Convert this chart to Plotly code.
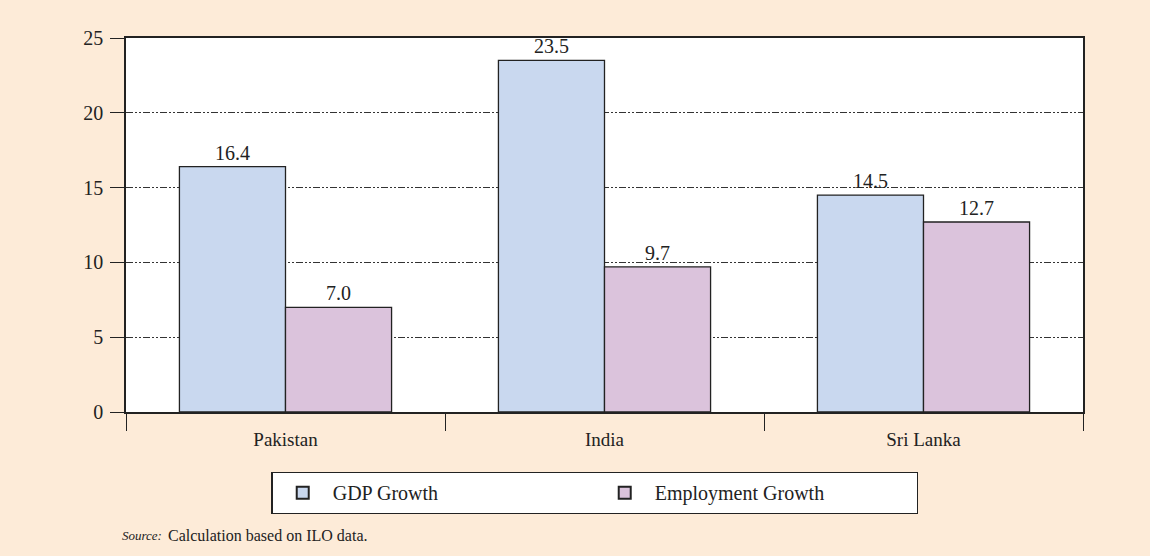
import plotly.graph_objects as go

categories = ["Pakistan", "India", "Sri Lanka"]
gdp_growth = [16.4, 23.5, 14.5]
employment_growth = [7.0, 9.7, 12.7]
y_ticks = [0, 5, 10, 15, 20, 25]

BG = "#FDEBD8"
FONT = "Liberation Serif"
INK = "#222222"

fig = go.Figure()
fig.add_trace(go.Bar(
    name="GDP Growth", x=categories, y=gdp_growth,
    marker=dict(color="#C9D8EF", line=dict(color=INK, width=1.3)),
    texttemplate="%{y:.1f}", textposition="outside",
    textfont=dict(family=FONT, size=20, color=INK), cliponaxis=False,
))
fig.add_trace(go.Bar(
    name="Employment Growth", x=categories, y=employment_growth,
    marker=dict(color="#DBC3DC", line=dict(color=INK, width=1.3)),
    texttemplate="%{y:.1f}", textposition="outside",
    textfont=dict(family=FONT, size=20, color=INK), cliponaxis=False,
))

fig.update_layout(
    width=1150, height=556,
    paper_bgcolor=BG, plot_bgcolor="white",
    margin=dict(l=126, r=67, t=38, b=144),
    barmode="group", bargap=0.335, bargroupgap=0,
    font=dict(family=FONT, size=18, color=INK),
    showlegend=True,
    legend=dict(
        orientation="h", x=0.49, xanchor="center", y=-0.16, yanchor="top",
        bgcolor="white", bordercolor=INK, borderwidth=1.3,
        font=dict(family=FONT, size=20, color=INK),
        entrywidth=257, entrywidthmode="pixels",
        itemwidth=50, itemsizing="constant",
    ),
    uniformtext=dict(mode=False),
)
fig.update_xaxes(
    showline=True, linecolor=INK, linewidth=1.5, mirror=True,
    ticks="outside", tickson="boundaries", ticklen=17, tickcolor=INK, tickwidth=1.3,
    ticklabelstandoff=9,
    showgrid=False, tickfont=dict(family=FONT, size=19),
)
fig.update_yaxes(
    range=[0, 25], tickvals=y_ticks,
    showline=True, linecolor=INK, linewidth=1.5, mirror=True,
    ticks="outside", ticklen=14, tickcolor=INK, tickwidth=1.3,
    ticklabelstandoff=3,
    showgrid=True, gridcolor="#333333", gridwidth=1,
    griddash="7px,2px,2px,2px,2px,2px",
    zeroline=False, tickfont=dict(family=FONT, size=20),
)
fig.add_annotation(
    xref="paper", yref="paper", x=(120 - 126) / 957, y=-0.329, xanchor="left", yanchor="middle",
    text="<i>Source:</i>", showarrow=False,
    font=dict(family=FONT, size=13, color=INK),
)
fig.add_annotation(
    xref="paper", yref="paper", x=(166 - 126) / 957, y=-0.329, xanchor="left", yanchor="middle",
    text="Calculation based on ILO data.", showarrow=False,
    font=dict(family=FONT, size=16, color=INK),
)

fig.write_html(
    "out.html",
    config={"displayModeBar": False},
    post_script="document.body.style.margin='0';document.body.style.overflow='hidden';",
)
